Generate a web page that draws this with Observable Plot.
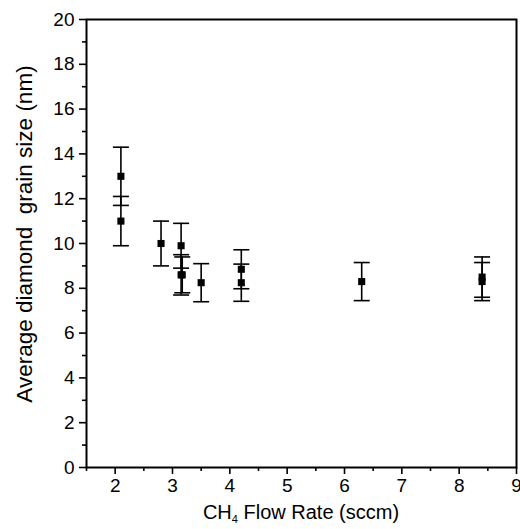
<!DOCTYPE html>
<html>
<head>
<meta charset="utf-8">
<script src="https://cdn.jsdelivr.net/npm/d3@7"></script>
<script src="https://cdn.jsdelivr.net/npm/@observablehq/plot@0.6"></script>
<style>
  html, body { margin: 0; padding: 0; background: white; }
</style>
</head>
<body>
<div id="chart"></div>
<script>
// Data
const flowRate  = [2.1, 2.1, 2.8, 3.15, 3.15, 3.17, 3.5, 4.2, 4.2, 6.3, 8.4, 8.4];
const grainSize = [13.0, 11.0, 10.0, 9.9, 8.6, 8.6, 8.25, 8.85, 8.25, 8.3, 8.5, 8.3];
const grainErr  = [1.3, 1.1, 1.0, 1.0, 0.9, 0.8, 0.85, 0.87, 0.83, 0.85, 0.9, 0.85];

const xMajor = [2, 3, 4, 5, 6, 7, 8, 9];
const xMinor = [1.5, 2.5, 3.5, 4.5, 5.5, 6.5, 7.5, 8.5];
const yMajor = [0, 2, 4, 6, 8, 10, 12, 14, 16, 18, 20];
const yMinor = [1, 3, 5, 7, 9, 11, 13, 15, 17, 19];

const xLabel = "CH";
const xLabelSub = "4";
const xLabelRest = " Flow Rate (sccm)";
const yLabel = "Average diamond\u00a0 grain size (nm)";

const data = flowRate.map((x, i) => ({x, y: grainSize[i], e: grainErr[i]}));

const capSymbol = {
  draw(context, size) {
    context.moveTo(-8, 0);
    context.lineTo(8, 0);
  }
};

const font = "'Liberation Sans', Arial, Helvetica, sans-serif";

const chart = Plot.plot({
  width: 520,
  height: 529,
  marginLeft: 86,
  marginRight: 4,
  marginTop: 19,
  marginBottom: 62,
  style: {fontFamily: font, fontSize: "19px", color: "black", background: "white", overflow: "visible"},
  x: {domain: [1.5, 9]},
  y: {domain: [0, 20]},
  marks: [
    Plot.frame({stroke: "black", strokeWidth: 2}),
    Plot.axisX({ticks: xMajor, tickSize: 7, tickPadding: 4, tickFormat: d => String(d), label: null, strokeWidth: 1.6}),
    Plot.axisX({ticks: xMinor, tickSize: 4, tickFormat: () => "", label: null, strokeWidth: 1.6}),
    Plot.axisY({ticks: yMajor, tickSize: 7, tickPadding: 5, tickFormat: d => String(d), label: null, strokeWidth: 1.6}),
    Plot.axisY({ticks: yMinor, tickSize: 4, tickFormat: () => "", label: null, strokeWidth: 1.6}),
    Plot.ruleX(data, {x: "x", y1: d => d.y - d.e, y2: d => d.y + d.e, stroke: "black", strokeWidth: 1.6}),
    Plot.dot(data, {x: "x", y: d => d.y + d.e, symbol: capSymbol, stroke: "black", strokeWidth: 1.6, r: 4}),
    Plot.dot(data, {x: "x", y: d => d.y - d.e, symbol: capSymbol, stroke: "black", strokeWidth: 1.6, r: 4}),
    Plot.dot(data, {x: "x", y: "y", symbol: "square", fill: "black", stroke: "none", r: 4})
  ]
});

document.getElementById("chart").appendChild(chart);

const svg = d3.select(chart);
const xt = svg.append("text")
  .attr("x", (86 + 516) / 2)
  .attr("y", 519)
  .attr("text-anchor", "middle")
  .attr("font-family", font)
  .attr("font-size", 20)
  .attr("fill", "black");
xt.append("tspan").text(xLabel);
xt.append("tspan").attr("font-size", 11).attr("dy", 4).text(xLabelSub);
xt.append("tspan").attr("dy", -4).text(xLabelRest);

svg.append("text")
  .attr("transform", `translate(32, 234) rotate(-90)`)
  .attr("text-anchor", "middle")
  .attr("font-family", font)
  .attr("font-size", 22.5)
  .attr("fill", "black")
  .text(yLabel);
</script>
</body>
</html>
